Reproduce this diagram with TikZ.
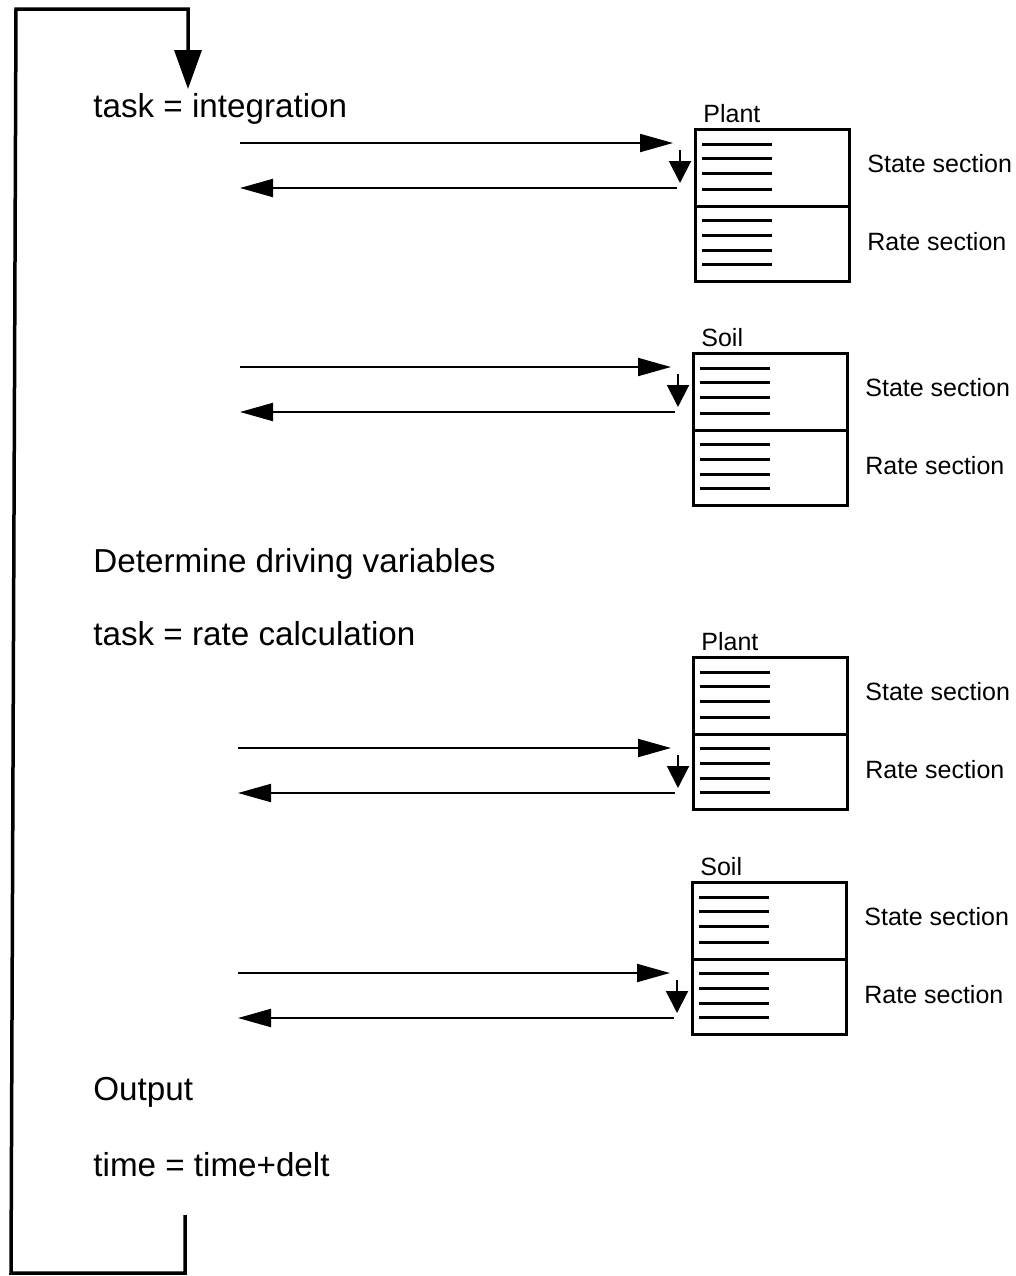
\documentclass[tikz,border=0pt]{standalone}
\usepackage{fontspec}
\setmainfont{Liberation Sans}
\usetikzlibrary{positioning,calc,arrows.meta}
\tikzset{>=stealth}
\tikzset{
  module/.style={draw,line width=1.5pt,minimum width=77pt,minimum height=76pt,inner sep=0pt,outer sep=0pt},
  bigtext/.style={font=\fontsize{16.6}{20}\selectfont,anchor=base west,inner sep=0pt},
  smalltext/.style={font=\fontsize{12.5}{15}\selectfont,anchor=west,inner sep=0pt},
  flow/.style={line width=1pt,-{Triangle[length=16.5pt,width=9pt]}},
  call/.style={line width=1pt,-{Triangle[length=11pt,width=11pt]}},
  listline/.style={line width=1.5pt},
}

\begin{document}
\begin{tikzpicture}[x=0.5pt,y=-0.5pt]
% Scale: one unit is one pixel of the page, y running down
\useasboundingbox (0,0) rectangle (1016,1276);

% Steps of the time loop
\node[bigtext] (task1) at (93,117) {task = integration};
\node[bigtext] (drive) at (93,572) {Determine driving variables};
\node[bigtext] (task2) at (93,645) {task = rate calculation};
\node[bigtext] (output) at (93,1100) {Output};
\node[bigtext] (time) at (93,1176) {time = time+delt};

% Loop back to the start of the next time step
\coordinate (L1) at (185,1215);
\coordinate (L2) at (185,1273);
\coordinate (L3) at (11,1273);
\coordinate (L4) at (16,9);
\coordinate (L5) at (188,9);
\coordinate (L6) at (188,89);
\draw[line width=1.75pt,-{Triangle[length=19.5pt,width=13.5pt]}]
   (L1) -- (L2) -- (L3) -- (L4) -- (L5) -- (L6);

% Modules with state and rate sections, called for one section each
\foreach \name/\lbl/\x/\y/\sec/\src in
   {plantA/Plant/695/129/0/240, soilA/Soil/693/353/0/240,
    plantB/Plant/693/657/77/238, soilB/Soil/692/882/77/238} {
  \node[module,anchor=north west] (\name) at (\x,\y) {};
  \node[smalltext] (\name-lbl) at ($(\name.north west)+(8,-15)$) {\lbl};
  \draw[listline] ($(\name.north west)+(0,77)$) -- ($(\name.north east)+(0,77)$);
  \foreach \dy in {15,29,44,60,91,106,121,135}
    \draw[listline] ($(\name.north west)+(7,\dy)$) -- +(70,0);
  \node[smalltext] (\name-state) at ($(\name.north east)+(18,35)$) {State section};
  \node[smalltext] (\name-rate) at ($(\name.north east)+(18,113)$) {Rate section};

  % Call and return
  \coordinate (\name-out) at (\src,\y+\sec+14);
  \coordinate (\name-in) at ($(\name.north west)+(-22,\sec+14)$);
  \draw[flow] (\name-out) -- (\name-in);
  \coordinate (\name-top) at ($(\name.north west)+(-15,\sec+21)$);
  \coordinate (\name-tip) at ($(\name.north west)+(-15,\sec+54)$);
  \draw[call] (\name-top) -- (\name-tip);
  \coordinate (\name-ret) at ($(\name.north west)+(-18,\sec+59)$);
  \coordinate (\name-back) at (\src,\y+\sec+59);
  \draw[flow] (\name-ret) -- (\name-back);
}
\end{tikzpicture}
\end{document}
